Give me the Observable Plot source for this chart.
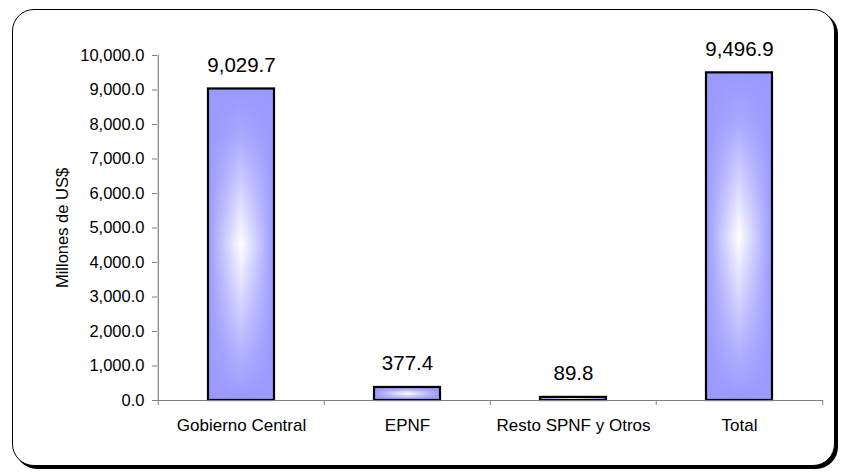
<!DOCTYPE html>
<html>
<head>
<meta charset="utf-8">
<script src="https://cdn.jsdelivr.net/npm/d3@7"></script>
<script src="https://cdn.jsdelivr.net/npm/@observablehq/plot@0.6"></script>
<style>
  html, body { margin: 0; padding: 0; background: #fff; }
  #wrap { position: relative; width: 844px; height: 472px; overflow: hidden; }
  #frame { position: absolute; left: 12px; top: 9px; width: 821px; height: 455px;
           border: 1.5px solid #000; border-radius: 22px; box-shadow: 3px 3px 0 #000; background: #fff; }
  #chart { position: absolute; left: 0; top: 0; }
  svg { font-family: "Liberation Sans", Arial, Helvetica, sans-serif; }
</style>
</head>
<body>
<div id="wrap"><div id="frame"></div><div id="chart"></div></div>
<script>
const categories = ["Gobierno Central", "EPNF", "Resto SPNF y Otros", "Total"];
const values = [9029.7, 377.4, 89.8, 9496.9];
const yTicks = [0, 1000, 2000, 3000, 4000, 5000, 6000, 7000, 8000, 9000, 10000];
const yLabel = "Millones de US$";

const data = categories.map((c, i) => ({category: c, value: values[i]}));
const fmt = d3.format(",.1f");

const W = 844, H = 472;
const mL = 157, mR = 21, mT = 55, mB = 72;
const step = (W - mL - mR) / categories.length;
const axisGray = "#808080";

const plot = Plot.plot({
  width: W, height: H,
  marginLeft: mL, marginRight: mR, marginTop: mT, marginBottom: mB,
  style: {fontFamily: '"Liberation Sans", Arial, sans-serif', background: "transparent", overflow: "visible", color: "#000"},
  x: {domain: categories, paddingInner: 0.6, paddingOuter: 0.3, axis: null},
  y: {domain: [0, 10000], axis: null},
  marks: [
    // y axis ticks (gray) and labels (black)
    Plot.axisY(yTicks, {tickSize: 5, tickFormat: () => "", stroke: axisGray, label: null}),
    Plot.axisY(yTicks, {tickSize: 0, tickPadding: 13, tickFormat: fmt, fill: "#000", fontSize: 16.5, label: null}),
    Plot.ruleX([categories[0]], {dx: -step / 2, y1: 0, y2: 10000, stroke: axisGray, strokeWidth: 1.2}),
    // x axis boundary ticks
    Plot.axisX(categories, {tickSize: 5, tickFormat: () => "", dx: -step / 2, stroke: axisGray, label: null}),
    Plot.axisX([categories[categories.length - 1]], {tickSize: 5, tickFormat: () => "", dx: step / 2, stroke: axisGray, label: null}),
    // x category labels
    Plot.axisX(categories, {tickSize: 0, tickPadding: 18, fontSize: 17, fill: "#000", label: null}),
    // bars: horizontal gradient + vertical gradient overlay
    Plot.barY(data, {x: "category", y: "value", fill: "url(#gh)"}),
    Plot.barY(data, {x: "category", y: "value", fill: "url(#gv)", stroke: "#000", strokeWidth: 2.2}),
    Plot.ruleY([0], {stroke: axisGray, strokeWidth: 1.2}),
    // value labels
    Plot.text(data, {x: "category", y: "value", text: d => fmt(d.value), dy: -17, lineAnchor: "bottom", fontSize: 20.5, fill: "#000"}),
    // y label
    Plot.text([yLabel], {frameAnchor: "left", rotate: -90, textAnchor: "middle", dx: -95, fontSize: 16.5, fill: "#000"})
  ]
});

const defs = d3.create("svg:defs");
const gh = defs.append("linearGradient").attr("id", "gh").attr("x1", "0").attr("x2", "1").attr("y1", "0").attr("y2", "0");
gh.append("stop").attr("offset", "0%").attr("stop-color", "#9999ff");
gh.append("stop").attr("offset", "50%").attr("stop-color", "#ffffff");
gh.append("stop").attr("offset", "100%").attr("stop-color", "#9999ff");
const gv = defs.append("linearGradient").attr("id", "gv").attr("x1", "0").attr("x2", "0").attr("y1", "0").attr("y2", "1");
gv.append("stop").attr("offset", "0%").attr("stop-color", "#9999ff").attr("stop-opacity", 1);
gv.append("stop").attr("offset", "15%").attr("stop-color", "#9999ff").attr("stop-opacity", 0.85);
gv.append("stop").attr("offset", "50%").attr("stop-color", "#9999ff").attr("stop-opacity", 0);
gv.append("stop").attr("offset", "85%").attr("stop-color", "#9999ff").attr("stop-opacity", 0.75);
gv.append("stop").attr("offset", "100%").attr("stop-color", "#9999ff").attr("stop-opacity", 1);
plot.insertBefore(defs.node(), plot.firstChild);

document.getElementById("chart").appendChild(plot);
</script>
</body>
</html>
